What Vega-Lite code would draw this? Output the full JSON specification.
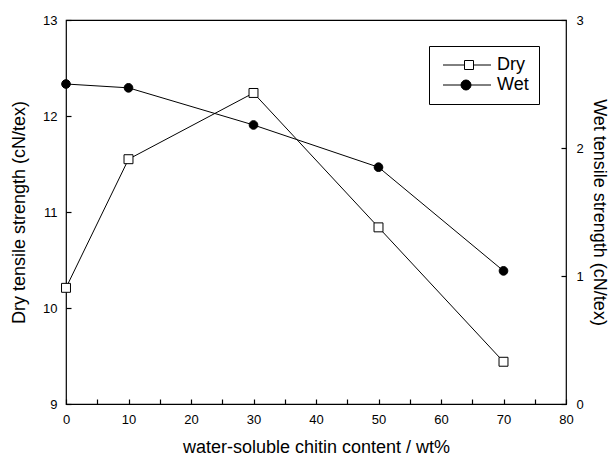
{
  "$schema": "https://vega.github.io/schema/vega-lite/v6.json",
  "width": 500,
  "height": 384,
  "autosize": {"type": "none"},
  "padding": {"left": 66, "top": 20, "right": 44, "bottom": 53},
  "background": "white",
  "config": {
    "font": "Liberation Sans",
    "view": {"stroke": "black", "strokeWidth": 1.2},
    "axis": {
      "domain": false,
      "offset": -5,
      "tickSize": 5,
      "tickColor": "black",
      "tickWidth": 1.2,
      "labelColor": "black",
      "titleColor": "black",
      "grid": false,
      "labelFontSize": 13,
      "titleFontSize": 18,
      "titleFontWeight": "normal",
      "labelFont": "Liberation Sans",
      "titleFont": "Liberation Sans",
      "labelFlush": false
    }
  },
  "data": {
    "values": [
      {"x": 0, "series": "Dry", "value": 10.21},
      {"x": 10, "series": "Dry", "value": 11.55},
      {"x": 30, "series": "Dry", "value": 12.24},
      {"x": 50, "series": "Dry", "value": 10.84},
      {"x": 70, "series": "Dry", "value": 9.44},
      {"x": 0, "series": "Wet", "value": 2.5},
      {"x": 10, "series": "Wet", "value": 2.47},
      {"x": 30, "series": "Wet", "value": 2.18},
      {"x": 50, "series": "Wet", "value": 1.85},
      {"x": 70, "series": "Wet", "value": 1.04}
    ]
  },
  "encoding": {
    "x": {
      "field": "x",
      "type": "quantitative",
      "scale": {"domain": [0, 80], "nice": false, "zero": false},
      "axis": {
        "title": "water-soluble chitin content / wt%",
        "values": [0, 5, 10, 15, 20, 25, 30, 35, 40, 45, 50, 55, 60, 65, 70, 75, 80],
        "format": "d",
        "labelExpr": "datum.value % 10 ? '' : datum.label",
        "labelPadding": 9,
        "titlePadding": 12
      }
    }
  },
  "layer": [
    {
      "transform": [{"filter": "datum.series === 'Dry'"}],
      "encoding": {
        "y": {
          "field": "value",
          "type": "quantitative",
          "scale": {"domain": [9, 13], "nice": false, "zero": false},
          "axis": {
            "orient": "left",
            "title": "Dry tensile strength (cN/tex)",
            "values": [9, 9.5, 10, 10.5, 11, 11.5, 12, 12.5, 13],
            "format": "d",
            "labelExpr": "datum.value % 1 ? '' : datum.label",
            "labelPadding": 9,
            "titlePadding": 14
          }
        }
      },
      "layer": [
        {"mark": {"type": "line", "color": "black", "strokeWidth": 1}},
        {
          "mark": {"type": "point", "shape": "square", "filled": true, "fill": "white", "stroke": "black", "strokeWidth": 1, "opacity": 1, "size": 80}
        },
        {
          "mark": {"type": "point", "filled": true, "opacity": 0, "size": 100},
          "encoding": {
            "shape": {
              "field": "series",
              "type": "nominal",
              "scale": {
                "domain": ["Dry", "Wet"],
                "range": ["M-1,0H3.3M5.1,0H8.6M3.3,-0.9H5.1V0.9H3.3Z", "M-1,0H8.6M4.6,0A1,1,0,1,1,2.6,0A1,1,0,1,1,4.6,0Z"]
              },
              "legend": {
                "orient": "none",
                "legendX": 363,
                "legendY": 26,
                "title": null,
                "strokeColor": "black",
                "padding": 10,
                "labelFontSize": 18,
                "labelFont": "Liberation Sans",
                "labelColor": "black",
                "symbolSize": 100,
                "symbolOpacity": 1,
                "symbolStrokeWidth": 1,
                "labelOffset": 40,
                "rowPadding": 2
              }
            },
            "fill": {
              "field": "series",
              "type": "nominal",
              "scale": {"domain": ["Dry", "Wet"], "range": ["white", "black"]}
            },
            "stroke": {
              "field": "series",
              "type": "nominal",
              "scale": {"domain": ["Dry", "Wet"], "range": ["black", "black"]}
            }
          }
        }
      ]
    },
    {
      "transform": [{"filter": "datum.series === 'Wet'"}],
      "encoding": {
        "y": {
          "field": "value",
          "type": "quantitative",
          "scale": {"domain": [0, 3], "nice": false},
          "axis": {
            "orient": "right",
            "title": "Wet tensile strength (cN/tex)",
            "values": [0, 0.5, 1, 1.5, 2, 2.5, 3],
            "format": "d",
            "labelExpr": "datum.value % 1 ? '' : datum.label",
            "labelPadding": 10,
            "titlePadding": 6
          }
        }
      },
      "layer": [
        {"mark": {"type": "line", "color": "black", "strokeWidth": 1}},
        {
          "mark": {"type": "point", "shape": "circle", "filled": true, "fill": "black", "stroke": "black", "strokeWidth": 1, "opacity": 1, "size": 75}
        }
      ]
    }
  ],
  "resolve": {"scale": {"y": "independent"}}
}
